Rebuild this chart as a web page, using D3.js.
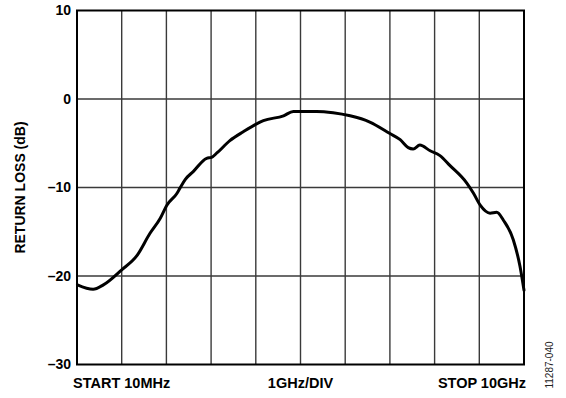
<!DOCTYPE html>
<html>
<head>
<meta charset="utf-8">
<script src="https://cdn.jsdelivr.net/npm/d3@7"></script>
<style>
  html, body { margin: 0; padding: 0; background: #fff; }
  svg { display: block; }
  text { font-family: "Liberation Sans", Arial, Helvetica, sans-serif; }
</style>
</head>
<body>
<svg id="chart" width="566" height="398"></svg>
<script>
// Return loss sweep, 10 MHz to 10 GHz
const freqGHz = [0.01, 0.36, 0.59, 1.0, 1.34, 1.63, 1.86, 2.01, 2.23, 2.30, 2.42, 2.60, 2.90, 3.01, 3.13, 3.42, 3.72, 4.06, 4.17, 4.62, 4.84, 5.36, 5.73, 6.11, 6.55, 7.0, 7.23, 7.41, 7.52, 7.67, 7.90, 8.12, 8.34, 8.72, 8.87, 9.02, 9.24, 9.39, 9.54, 9.76, 9.91, 10.0];
const returnLossDb = [-21.0, -21.5, -21.0, -19.3, -17.7, -15.2, -13.5, -12.0, -10.7, -10.1, -9.1, -8.2, -6.7, -6.6, -6.1, -4.7, -3.7, -2.7, -2.45, -1.9, -1.4, -1.4, -1.55, -1.9, -2.6, -3.9, -4.6, -5.5, -5.65, -5.2, -5.85, -6.4, -7.5, -9.5, -10.65, -12.0, -12.9, -12.8, -13.7, -15.9, -18.9, -21.6];
const yTicks = [10, 0, -10, -20, -30];
const xGridGHz = [1, 2, 3, 4, 5, 6, 7, 8, 9];
const xLabels = ["START 10MHz", "1GHz/DIV", "STOP 10GHz"];
const yTitle = "RETURN LOSS (dB)";
const figureId = "11287-040";

(function () {
  const svg = d3.select("#chart");
  const plotL = 77, plotR = 524, plotT = 10.5, plotB = 364.5;

  const x = d3.scaleLinear().domain([0, 10]).range([plotL, plotR]);
  const y = d3.scaleLinear().domain([-30, 10]).range([plotB, plotT]);

  // grid
  const grid = svg.append("g").attr("stroke", "#3a3a3a").attr("stroke-width", 1.4);
  grid.selectAll("line.v").data(xGridGHz).join("line")
    .attr("class", "v")
    .attr("x1", d => x(d)).attr("x2", d => x(d))
    .attr("y1", plotT).attr("y2", plotB);
  grid.selectAll("line.h").data(yTicks.filter(d => d > -30 && d < 10)).join("line")
    .attr("class", "h")
    .attr("x1", plotL).attr("x2", plotR)
    .attr("y1", d => y(d)).attr("y2", d => y(d));

  // frame
  svg.append("rect")
    .attr("x", plotL).attr("y", plotT)
    .attr("width", plotR - plotL).attr("height", plotB - plotT)
    .attr("fill", "none").attr("stroke", "#000").attr("stroke-width", 2);

  // y axis tick labels
  const yAxis = d3.axisLeft(y).tickValues(yTicks).tickSize(0).tickPadding(6)
    .tickFormat(d => d < 0 ? "\u2013" + Math.abs(d) : String(d));
  const ya = svg.append("g").attr("transform", `translate(${plotL},0)`).call(yAxis);
  ya.select(".domain").remove();
  ya.selectAll("text")
    .attr("font-family", "Liberation Sans, Arial, sans-serif")
    .attr("font-size", 14).attr("font-weight", "bold").attr("fill", "#000");

  // y axis title
  svg.append("text")
    .attr("transform", `translate(25,${(plotT + plotB) / 2}) rotate(-90)`)
    .attr("text-anchor", "middle")
    .attr("font-size", 14).attr("font-weight", "bold")
    .text(yTitle);

  // x labels
  const xl = svg.append("g").attr("font-size", 14.5).attr("font-weight", "bold");
  xl.append("text").attr("x", 73).attr("y", 388).attr("text-anchor", "start").text(xLabels[0]);
  xl.append("text").attr("x", x(5)).attr("y", 388).attr("text-anchor", "middle").text(xLabels[1]);
  xl.append("text").attr("x", 526).attr("y", 388).attr("text-anchor", "end").text(xLabels[2]);

  // figure id
  svg.append("text")
    .attr("transform", "translate(553,365) rotate(-90)")
    .attr("text-anchor", "middle")
    .attr("font-size", 10).attr("fill", "#222")
    .text(figureId);

  // trace
  const line = d3.line()
    .x((d, i) => x(freqGHz[i]))
    .y(d => y(d))
    .curve(d3.curveMonotoneX);
  svg.append("path")
    .datum(returnLossDb)
    .attr("d", line)
    .attr("fill", "none").attr("stroke", "#000")
    .attr("stroke-width", 3).attr("stroke-linejoin", "round").attr("stroke-linecap", "round");
})();
</script>
</body>
</html>
